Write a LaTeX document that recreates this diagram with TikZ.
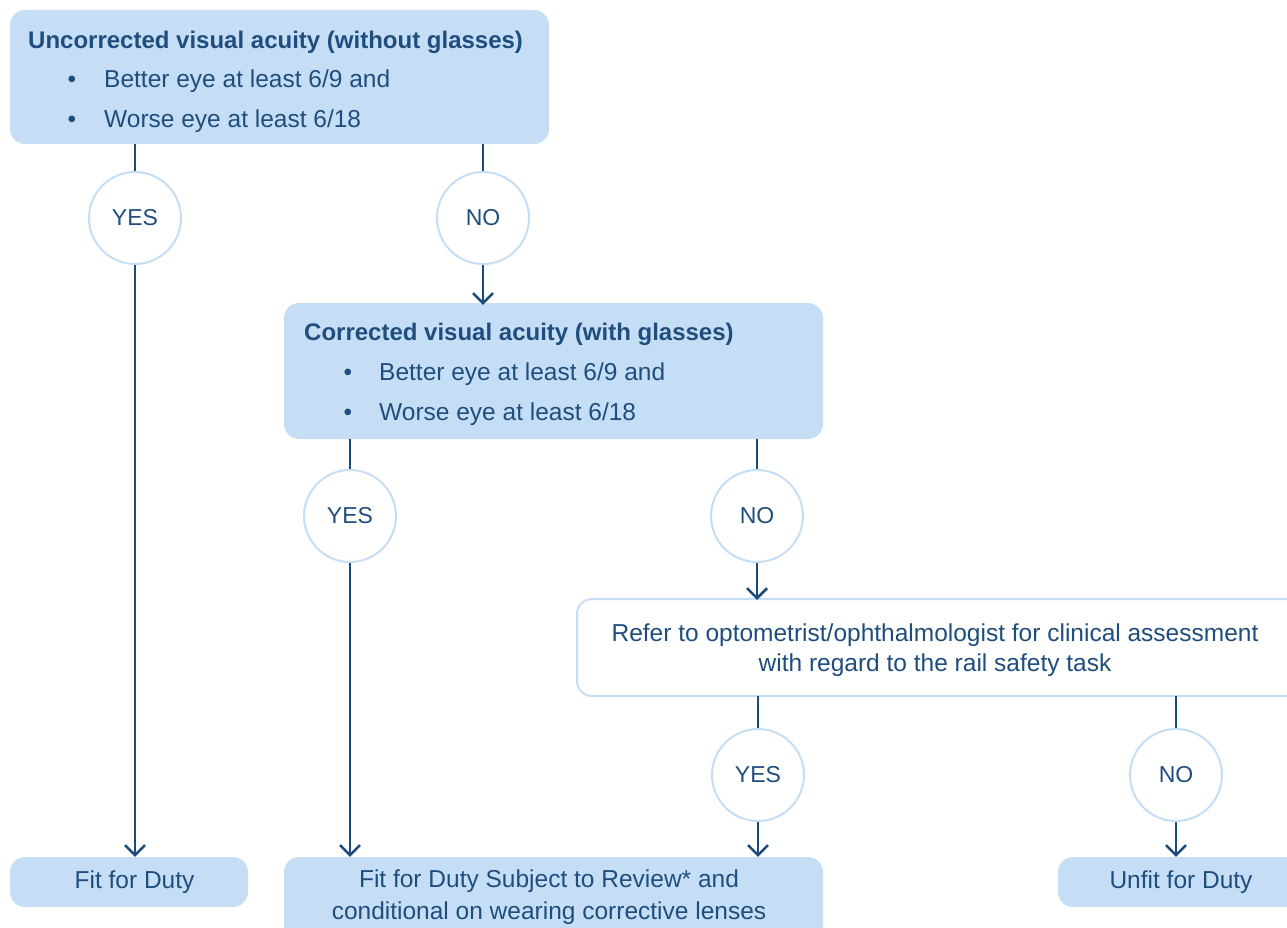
\documentclass[tikz,border=0pt]{standalone}
\usepackage{fontspec}
\setmainfont{Liberation Sans}
\usetikzlibrary{arrows.meta}
\definecolor{lb}{HTML}{C6DEF5}
\definecolor{db}{HTML}{1B4B7C}
\definecolor{tx}{HTML}{1F4E7E}
\tikzset{
  box/.style={fill=lb, draw=none, rounded corners=15pt, inner sep=0},
  wbox/.style={fill=white, draw=lb, line width=2pt, rounded corners=15pt, inner sep=0},
  yn/.style={circle, fill=white, draw=lb, line width=2pt, minimum size=92pt, inner sep=0, text=tx, font=\fontsize{23}{26}\selectfont},
  lbl/.style={inner sep=0, text=tx, font=\fontsize{24.5}{28}\selectfont},
  ttl/.style={inner sep=0, text=tx, font=\fontsize{24}{28}\selectfont\bfseries},
  conn/.style={draw=db, line width=2.5pt},
  arr/.style={conn, -{Straight Barb[length=10pt,width=20pt,line width=2.5pt]}},
}
\begin{document}
\begin{tikzpicture}[x=1pt,y=-1pt]
\useasboundingbox (0,0) rectangle (1287,928);
% boxes
\node[box, minimum width=539pt, minimum height=134pt] (b1) at (279.5,77) {};
\node[ttl, anchor=base west] (t1) at (28,49) {Uncorrected visual acuity (without glasses)};
\node[lbl, anchor=base] (b1d1) at (72,88) {\textbullet};
\node[lbl, anchor=base west] (b1l1) at (104,88) {Better eye at least 6/9 and};
\node[lbl, anchor=base] (b1d2) at (72,128) {\textbullet};
\node[lbl, anchor=base west] (b1l2) at (104,128) {Worse eye at least 6/18};

\node[box, minimum width=539pt, minimum height=136pt] (b2) at (553.5,371) {};
\node[ttl, anchor=base west] (t2) at (304,340) {Corrected visual acuity (with glasses)};
\node[lbl, anchor=base] (b2d1) at (348,380) {\textbullet};
\node[lbl, anchor=base west] (b2l1) at (379,380) {Better eye at least 6/9 and};
\node[lbl, anchor=base] (b2d2) at (348,420) {\textbullet};
\node[lbl, anchor=base west] (b2l2) at (379,420) {Worse eye at least 6/18};

\node[wbox, minimum width=730pt, minimum height=97pt] (ref) at (942,647.5) {};
\node[lbl, anchor=base] (reft1) at (935,641) {Refer to optometrist/ophthalmologist for clinical assessment};
\node[lbl, anchor=base] (reft2) at (935,671) {with regard to the rail safety task};

\node[box, minimum width=238pt, minimum height=50pt] (fit) at (129,882) {};
\node[lbl, anchor=base] (fitt) at (134.5,888) {Fit for Duty};

\node[box, minimum width=539pt, minimum height=100pt] (fsr) at (553.5,907) {};
\node[lbl, anchor=base] (fsrt1) at (549,887) {Fit for Duty Subject to Review* and};
\node[lbl, anchor=base] (fsrt2) at (549,919) {conditional on wearing corrective lenses};

\node[box, minimum width=260pt, minimum height=50pt] (unfit) at (1188,882) {};
\node[lbl, anchor=base] (unfitt) at (1181,888) {Unfit for Duty};

% decision circles
\node[yn] (y1) at (135,218) {YES};
\node[yn] (n1) at (483,218) {NO};
\node[yn] (y2) at (350,516) {YES};
\node[yn] (n2) at (757,516) {NO};
\node[yn] (y3) at (758,775) {YES};
\node[yn] (n3) at (1176,775) {NO};

% connectors
\draw[conn] (y1.north |- b1.south) -- (y1.north);
\draw[arr] (y1.south) -- (y1.south |- fit.north);
\draw[conn] (n1.north |- b1.south) -- (n1.north);
\draw[arr] (n1.south) -- ([yshift=-2pt]n1.south |- b2.north);
\draw[conn] (y2.north |- b2.south) -- (y2.north);
\draw[arr] (y2.south) -- (y2.south |- fsr.north);
\draw[conn] (n2.north |- b2.south) -- (n2.north);
\draw[arr] (n2.south) -- ([yshift=-2pt]n2.south |- ref.north);
\draw[conn] ([yshift=1pt]y3.north |- ref.south) -- (y3.north);
\draw[arr] (y3.south) -- (y3.south |- fsr.north);
\draw[conn] ([yshift=1pt]n3.north |- ref.south) -- (n3.north);
\draw[arr] (n3.south) -- (n3.south |- unfit.north);
\end{tikzpicture}
\end{document}
